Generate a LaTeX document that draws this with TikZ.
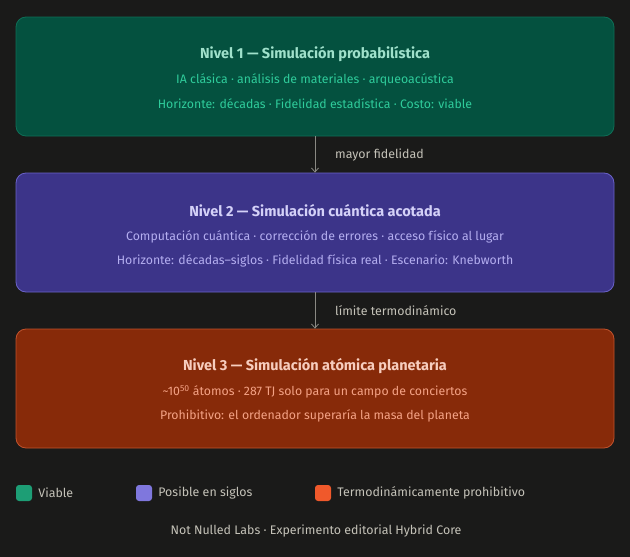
\documentclass[tikz,border=0pt]{standalone}
\usepackage{fontspec}
\setmainfont{Fira Sans}
\usetikzlibrary{arrows.meta,positioning}

\definecolor{fondo}{HTML}{1A1A19}
\definecolor{verdeF}{HTML}{04513F}
\definecolor{verdeB}{HTML}{0F6E56}
\definecolor{verdeT}{HTML}{9FE1CB}
\definecolor{verdeL}{HTML}{2FCC9B}
\definecolor{moradoF}{HTML}{3C3489}
\definecolor{moradoB}{HTML}{6A62C8}
\definecolor{moradoT}{HTML}{D4D1F8}
\definecolor{moradoL}{HTML}{B4AEF0}
\definecolor{rojoF}{HTML}{872A09}
\definecolor{rojoB}{HTML}{C0522C}
\definecolor{rojoT}{HTML}{F7CDBE}
\definecolor{rojoL}{HTML}{F4A285}
\definecolor{gris}{HTML}{C4C2B8}
\definecolor{flecha}{HTML}{8A8983}
\definecolor{legV}{HTML}{1D9E75}
\definecolor{legM}{HTML}{7F77DD}
\definecolor{legR}{HTML}{F0592B}

\begin{document}
\begin{tikzpicture}[x=1pt, y=-1pt,
    nivel/.style={rectangle, rounded corners=10pt, line width=0.8pt, minimum width=598pt, minimum height=119pt, inner sep=0pt},
    titulo/.style={font=\fontsize{14.5}{17}\selectfont\bfseries, inner sep=0pt},
    linea/.style={font=\fontsize{12.3}{15}\selectfont, inner sep=0pt},
    etiqueta/.style={font=\fontsize{12.4}{15}\selectfont, text=gris, inner sep=0pt, anchor=west},
    cuadro/.style={rectangle, rounded corners=3pt, minimum size=16pt, inner sep=0pt},
    paso/.style={draw=flecha, line width=0.8pt, -{Straight Barb[length=4pt, width=7pt]}}]
  \useasboundingbox[fill=fondo] (0,0) rectangle (630,557);

  % Nivel 1
  \node[nivel, fill=verdeF, draw=verdeB] (n1) at (315,76.5) {};
  \node[titulo, text=verdeT] (t1) at (315,54) {Nivel 1 — Simulación probabilística};
  \node[linea, text=verdeL] (a1) at (315,80) {IA clásica · análisis de materiales · arqueoacústica};
  \node[linea, text=verdeL] (b1) at (315,104) {Horizonte: décadas · Fidelidad estadística · Costo: viable};

  % Nivel 2
  \node[nivel, fill=moradoF, draw=moradoB] (n2) at (315,232.5) {};
  \node[titulo, text=moradoT] (t2) at (315,211) {Nivel 2 — Simulación cuántica acotada};
  \node[linea, text=moradoL] (a2) at (315,237) {Computación cuántica · corrección de errores · acceso físico al lugar};
  \node[linea, text=moradoL] (b2) at (315,261) {Horizonte: décadas–siglos · Fidelidad física real · Escenario: Knebworth};

  % Nivel 3
  \node[nivel, fill=rojoF, draw=rojoB] (n3) at (315,388.5) {};
  \node[titulo, text=rojoT] (t3) at (315,366) {Nivel 3 — Simulación atómica planetaria};
  \node[linea, text=rojoL] (a3) at (315,392) {\textasciitilde10\textsuperscript{50} átomos · 287 TJ solo para un campo de conciertos};
  \node[linea, text=rojoL] (b3) at (315,416) {Prohibitivo: el ordenador superaría la masa del planeta};

  % Flechas
  \draw[paso] (n1.south) -- (n2.north);
  \node[etiqueta] (f1) at (335,155) {mayor fidelidad};
  \draw[paso] (n2.south) -- (n3.north);
  \node[etiqueta] (f2) at (335,311) {límite termodinámico};

  % Leyenda
  \node[cuadro, fill=legV] (c1) at (24,493) {};
  \node[etiqueta, right=6pt of c1] (l1) {Viable};
  \node[cuadro, fill=legM] (c2) at (144,493) {};
  \node[etiqueta, right=6pt of c2] (l2) {Posible en siglos};
  \node[cuadro, fill=legR] (c3) at (323,493) {};
  \node[etiqueta, right=6pt of c3] (l3) {Termodinámicamente prohibitivo};

  \node[etiqueta, anchor=center] (pie) at (316,531) {Not Nulled Labs · Experimento editorial Hybrid Core};
\end{tikzpicture}
\end{document}
